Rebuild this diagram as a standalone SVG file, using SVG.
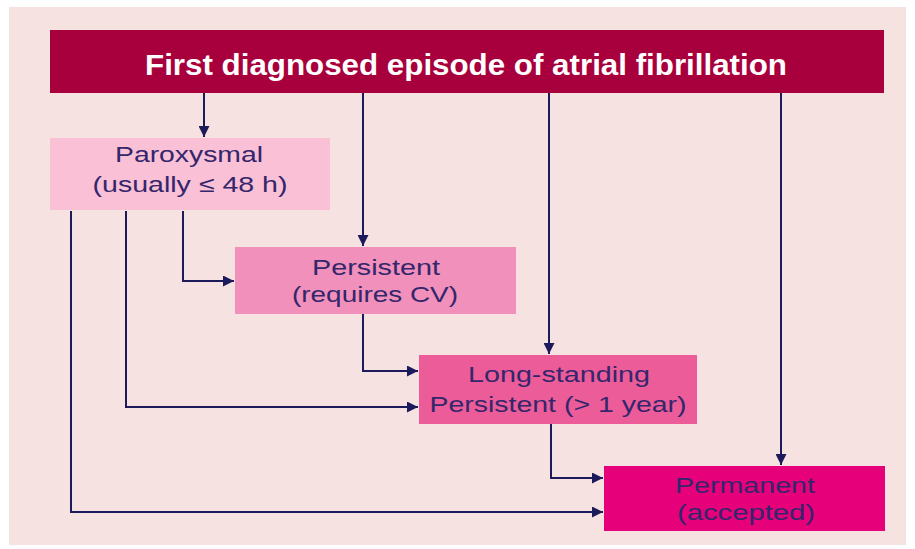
<svg xmlns="http://www.w3.org/2000/svg" width="915" height="549" viewBox="0 0 915 549">
<defs>
<marker id="ah" viewBox="0 0 10 10" refX="10" refY="5" markerWidth="11" markerHeight="11" markerUnits="userSpaceOnUse" orient="auto">
<path d="M0,0 L10,5 L0,10 z" fill="#1c1a5a"/>
</marker>
<style>
.c{fill:none;stroke:#1c1a5a;stroke-width:2;marker-end:url(#ah)}
.t{font-family:"Liberation Sans",Arial,sans-serif;font-size:22px;fill:#34266c;text-anchor:middle}
</style>
</defs>
<rect width="915" height="549" fill="#ffffff"/>
<rect x="9" y="7" width="897" height="538" fill="#f6e2e0"/>
<g id="connectors">
<path class="c" d="M204,93 V137"/>
<path class="c" d="M363,93 V246"/>
<path class="c" d="M549,93 V354"/>
<path class="c" d="M781,93 V465"/>
<path class="c" d="M183,211 V281 H234"/>
<path class="c" d="M126,211 V407 H418"/>
<path class="c" d="M71,211 V512 H603"/>
<path class="c" d="M363,314 V371 H418"/>
<path class="c" d="M551,424 V478 H603"/>
</g>
<g id="first">
<rect x="50" y="30" width="834" height="63" fill="#a8003c"/>
<text x="466" y="75" font-family="'Liberation Sans',Arial,sans-serif" font-size="30" font-weight="bold" fill="#ffffff" text-anchor="middle" textLength="642" lengthAdjust="spacingAndGlyphs">First diagnosed episode of atrial fibrillation</text>
</g>
<g id="paroxysmal">
<rect x="50" y="138" width="280" height="72" fill="#f9c0d6"/>
<text class="t" x="189" y="162" textLength="148" lengthAdjust="spacingAndGlyphs">Paroxysmal</text>
<text class="t" x="190" y="192" textLength="195" lengthAdjust="spacingAndGlyphs">(usually ≤ 48 h)</text>
</g>
<g id="persistent">
<rect x="235" y="247" width="281" height="67" fill="#f190ba"/>
<text class="t" x="376" y="275" textLength="128" lengthAdjust="spacingAndGlyphs">Persistent</text>
<text class="t" x="375" y="302" textLength="166" lengthAdjust="spacingAndGlyphs">(requires CV)</text>
</g>
<g id="longstanding">
<rect x="419" y="355" width="278" height="69" fill="#ec5c98"/>
<text class="t" x="559" y="382" textLength="182" lengthAdjust="spacingAndGlyphs">Long-standing</text>
<text class="t" x="558" y="412" textLength="257" lengthAdjust="spacingAndGlyphs">Persistent (&gt; 1 year)</text>
</g>
<g id="permanent">
<rect x="604" y="466" width="281" height="65" fill="#e6007a"/>
<text class="t" x="745" y="493" textLength="140" lengthAdjust="spacingAndGlyphs">Permanent</text>
<text class="t" x="746" y="520" textLength="138" lengthAdjust="spacingAndGlyphs">(accepted)</text>
</g>
</svg>
